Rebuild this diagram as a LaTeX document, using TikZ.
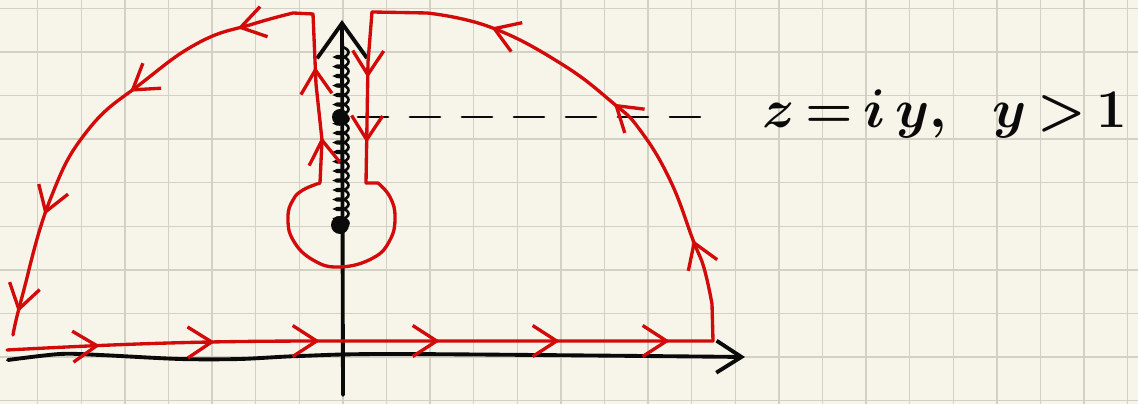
\RequirePackage{fix-cm}
\documentclass[tikz,border=0pt]{standalone}
\usetikzlibrary{arrows.meta,decorations.markings,decorations.pathmorphing}
\definecolor{sheet}{HTML}{F7F5EA}
\definecolor{sheetgrid}{HTML}{D3D1C3}
\definecolor{inkred}{HTML}{D20A0A}
\definecolor{inkblack}{HTML}{0A0A0A}
\tikzset{
  gridrule/.style={draw=sheetgrid, line width=0.8pt},
  inkaxis/.style={draw=inkblack, line width=2.2pt, line cap=round, line join=round,
    -{Straight Barb[length=5mm, width=6.4mm]}},
  contour/.style={draw=inkred, line width=1.9pt, line cap=round, line join=round},
  tipat/.style={postaction={decorate, decoration={markings,
    mark=at position #1 with {\arrow[color=inkred]{Straight Barb[length=4.8mm, width=6.2mm, line width=1.9pt]}}}}},
  branchcut/.style={draw=inkblack, line width=1.5pt, decorate,
    decoration={coil, amplitude=1.3mm, segment length=1.9mm, aspect=0.45}},
  guide/.style={draw=inkblack, line width=1.6pt, line cap=round, dash pattern=on 0.6cm off 0.44cm},
  branchpt/.style={fill=inkblack},
  handlab/.style={text=inkblack, font=\fontsize{31}{35}\selectfont\boldmath, inner sep=0pt, anchor=base west},
}

\begin{document}
\begin{tikzpicture}[x=0.02cm, y=0.02cm]
% sheet and grid
\useasboundingbox (0,0) rectangle (1138,404);
\fill[sheet] (0,0) rectangle (1138,404);
\foreach \i in {0,...,25} \draw[gridrule] ({37.7+43.6*\i},0) -- ++(0,404);
\foreach \j in {0,...,9} \draw[gridrule] (0,{3.3+43.6*\j}) -- ++(1138,0);
% points of the contour
\coordinate (bl) at (7,54);
\coordinate (br) at (713,63);
\coordinate (tl) at (313,390);
\coordinate (tr) at (372,392);
\coordinate (ls) at (320,221);
\coordinate (rs) at (366,221);
\coordinate (bp1) at (340,287);
\coordinate (bp2) at (340,179);
% axes
\draw[inkaxis] plot[smooth] coordinates {(8,44) (60,50) (100,49) (180,45) (240,45) (300,48) (400,50) (745,47)};
\draw[inkaxis, -{Straight Barb[length=7mm, width=10mm]}] (343,9) -- (342,384);
% branch cut and branch points
\draw[branchcut] (342,357) -- (342,171);
\fill[branchpt] (bp1) circle[radius=8];
\fill[branchpt] (bp2) circle[radius=9];
\draw[guide] ([xshift=0.36cm]bp1) -- ++(362,0) coordinate (gend);
% the contour
\draw[contour, tipat=1.86cm, tipat=4.16cm, tipat=6.26cm, tipat=8.66cm, tipat=11.06cm, tipat=13.26cm]
  (bl) to[out=3, in=180] (330,63) -- (br);
\draw[contour, tipat=2.08cm, tipat=5.28cm, tipat=8.18cm]
  (br) -- plot[smooth, tension=0.75] coordinates {(712,100) (704,136) (693,164) (670,224) (640,274) (613,301) (560,341) (490,377) (427,391)} -- (tr);
\draw[contour, tipat=1.32cm, tipat=2.62cm] (tr) -- (368,342) -- (rs);
\draw[contour] (rs) -- plot[smooth, tension=0.75] coordinates {(378,221) (390,207) (395,187) (390,164) (373,146) (340,137) (313,144) (293,164) (288,187) (293,204) (303,214) (320,221)};
\draw[contour, tipat=0.92cm, tipat=2.33cm, tipat=4.94cm, tipat=7.46cm, tipat=10.52cm, tipat=12.54cm]
  (ls) -- (322,264) -- (316,320) -- (tl) -- plot[smooth, tension=0.75] coordinates {(293,391) (253,380) (200,362) (143,322) (88,274) (50,204) (22,107) (13,69)};
% label
\node[handlab] (lab) at (762,276) {$z\,{=}\,i\,y,\hspace{20pt}y\,{>}\,1$};
\end{tikzpicture}
\end{document}
